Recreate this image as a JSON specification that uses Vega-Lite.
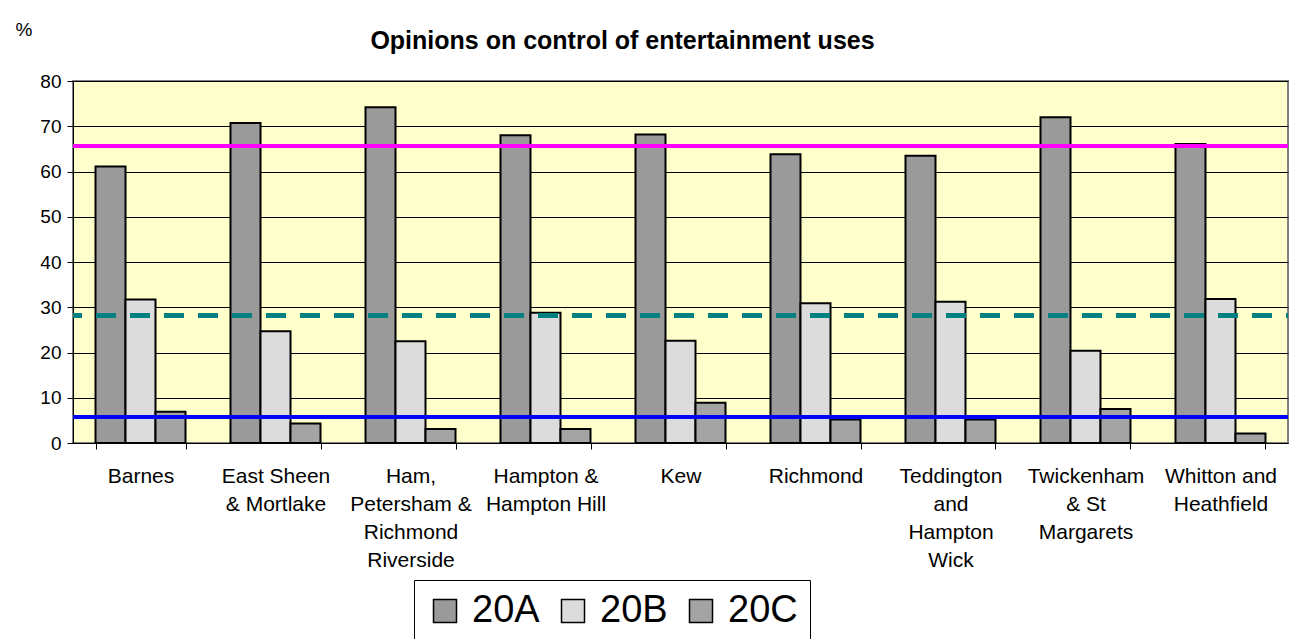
{
  "$schema": "https://vega.github.io/schema/vega-lite/v6.json",
  "width": 1215,
  "height": 362,
  "autosize": {"type": "none"},
  "padding": {"left": 73, "top": 81, "right": 20, "bottom": 196},
  "background": "white",
  "config": {
    "view": {"fill": "#FFFFCC", "stroke": "#808080", "strokeWidth": 2},
    "font": "Liberation Sans"
  },
  "title": {
    "text": "Opinions on control of entertainment uses",
    "font": "Liberation Sans",
    "fontSize": 25,
    "fontWeight": "bold",
    "color": "black",
    "anchor": "middle",
    "dx": -58,
    "dy": 60,
    "offset": 26
  },
  "data": {
    "values": [
      {"area": "Barnes", "question": "20A", "pct": 61.1},
      {"area": "Barnes", "question": "20B", "pct": 31.7},
      {"area": "Barnes", "question": "20C", "pct": 6.9},
      {"area": "East Sheen & Mortlake", "question": "20A", "pct": 70.7},
      {"area": "East Sheen & Mortlake", "question": "20B", "pct": 24.7},
      {"area": "East Sheen & Mortlake", "question": "20C", "pct": 4.3},
      {"area": "Ham, Petersham & Richmond Riverside", "question": "20A", "pct": 74.2},
      {"area": "Ham, Petersham & Richmond Riverside", "question": "20B", "pct": 22.5},
      {"area": "Ham, Petersham & Richmond Riverside", "question": "20C", "pct": 3.1},
      {"area": "Hampton & Hampton Hill", "question": "20A", "pct": 68.0},
      {"area": "Hampton & Hampton Hill", "question": "20B", "pct": 28.8},
      {"area": "Hampton & Hampton Hill", "question": "20C", "pct": 3.1},
      {"area": "Kew", "question": "20A", "pct": 68.2},
      {"area": "Kew", "question": "20B", "pct": 22.6},
      {"area": "Kew", "question": "20C", "pct": 8.9},
      {"area": "Richmond", "question": "20A", "pct": 63.8},
      {"area": "Richmond", "question": "20B", "pct": 30.9},
      {"area": "Richmond", "question": "20C", "pct": 5.2},
      {"area": "Teddington and Hampton Wick", "question": "20A", "pct": 63.5},
      {"area": "Teddington and Hampton Wick", "question": "20B", "pct": 31.2},
      {"area": "Teddington and Hampton Wick", "question": "20C", "pct": 5.2},
      {"area": "Twickenham & St Margarets", "question": "20A", "pct": 72.0},
      {"area": "Twickenham & St Margarets", "question": "20B", "pct": 20.4},
      {"area": "Twickenham & St Margarets", "question": "20C", "pct": 7.5},
      {"area": "Whitton and Heathfield", "question": "20A", "pct": 66.1},
      {"area": "Whitton and Heathfield", "question": "20B", "pct": 31.8},
      {"area": "Whitton and Heathfield", "question": "20C", "pct": 2.1}
    ]
  },
  "layer": [
    {
      "mark": {"type": "bar", "stroke": "black", "strokeWidth": 2},
      "encoding": {
        "x": {
          "field": "area",
          "type": "nominal",
          "sort": null,
          "scale": {"paddingInner": 0.3333, "paddingOuter": 0.1667},
          "axis": {
            "title": null,
            "labelAngle": 0,
            "tickBand": "extent",
            "tickSize": 6,
            "tickColor": "black",
            "domainColor": "black",
            "labelFont": "Liberation Sans",
            "labelFontSize": 21,
            "labelColor": "black",
            "labelLineHeight": 28,
            "labelPadding": 16,
            "labelBaseline": "top",
            "labelLimit": 300,
            "labelOverlap": false,
            "labelExpr": "datum.label == 'East Sheen & Mortlake' ? ['East Sheen', '& Mortlake'] : datum.label == 'Ham, Petersham & Richmond Riverside' ? ['Ham,', 'Petersham &', 'Richmond', 'Riverside'] : datum.label == 'Hampton & Hampton Hill' ? ['Hampton &', 'Hampton Hill'] : datum.label == 'Teddington and Hampton Wick' ? ['Teddington', 'and', 'Hampton', 'Wick'] : datum.label == 'Twickenham & St Margarets' ? ['Twickenham', '& St', 'Margarets'] : datum.label == 'Whitton and Heathfield' ? ['Whitton and', 'Heathfield'] : datum.label"
          }
        },
        "xOffset": {"field": "question", "type": "nominal", "scale": {"paddingInner": 0, "paddingOuter": 0}},
        "y": {
          "field": "pct",
          "type": "quantitative",
          "scale": {"domain": [0, 80], "nice": false},
          "axis": {
            "title": "%",
            "titleAngle": 0,
            "titleX": -58,
            "titleY": -46,
            "titleAlign": "left",
            "titleBaseline": "alphabetic",
            "titleFont": "Liberation Sans",
            "titleFontSize": 19,
            "titleFontWeight": "normal",
            "titleColor": "black",
            "values": [0, 10, 20, 30, 40, 50, 60, 70, 80],
            "grid": true,
            "gridColor": "black",
            "gridWidth": 1,
            "gridOpacity": 1,
            "domainColor": "black",
            "tickColor": "black",
            "tickSize": 6,
            "labelFont": "Liberation Sans",
            "labelFontSize": 19,
            "labelColor": "black",
            "labelPadding": 6
          }
        },
        "color": {
          "field": "question",
          "type": "nominal",
          "scale": {"domain": ["20A", "20B", "20C"], "range": ["#9a9a9a", "#dcdcdc", "#a4a4a4"]},
          "legend": {
            "orient": "none",
            "legendX": 341,
            "legendY": 499,
            "direction": "horizontal",
            "title": null,
            "labelFont": "Liberation Sans",
            "labelFontSize": 38,
            "labelColor": "black",
            "labelOffset": 8,
            "symbolType": "square",
            "symbolSize": 529,
            "symbolStrokeColor": "black",
            "symbolStrokeWidth": 1.5,
            "symbolOpacity": 1,
            "strokeColor": "black",
            "fillColor": "white",
            "padding": 12,
            "columnPadding": 14
          }
        }
      }
    },
    {
      "mark": {"type": "rule", "color": "#FF00FF", "strokeWidth": 3},
      "encoding": {"y": {"datum": 65.7}}
    },
    {
      "mark": {"type": "rule", "color": "#008080", "strokeWidth": 4, "strokeDash": [20, 14], "strokeDashOffset": 18},
      "encoding": {"y": {"datum": 28.2}}
    },
    {
      "mark": {"type": "rule", "color": "#0000FF", "strokeWidth": 3},
      "encoding": {"y": {"datum": 5.7}}
    }
  ]
}
